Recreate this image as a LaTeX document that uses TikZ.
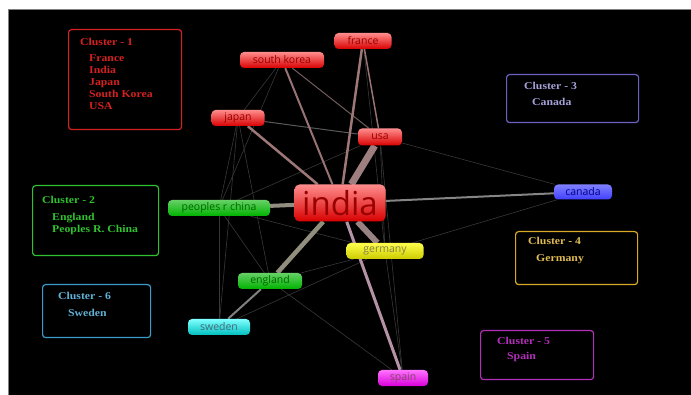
\documentclass[tikz,border=0pt]{standalone}
\usepackage{fontspec}
\setmainfont{Liberation Serif}
\newfontfamily\nodefont{Open Sans}
\newfontfamily\clfont[FakeStretch=1.12]{Liberation Serif}
\pgfdeclarelayer{bg}
\pgfdeclarelayer{edges}
\pgfsetlayers{bg,edges,main}
\definecolor{cred}{HTML}{D42020}
\definecolor{cgreen}{HTML}{30C030}
\definecolor{cblue}{HTML}{6A62C0}
\definecolor{cgold}{HTML}{D8AA28}
\definecolor{cmag}{HTML}{B030B8}
\definecolor{ccyan}{HTML}{3A9CCC}
\tikzset{
  cnode/.style={rounded corners=4pt, inner sep=0pt, font=\nodefont\fontsize{10.5}{11}\selectfont},
  rednode/.style={cnode, top color=red!45!white!100, bottom color=red!85!black, text=red!60!black},
  greennode/.style={cnode, top color=green!70!black!60!white, bottom color=green!70!black, text=green!40!black},
  bluenode/.style={cnode, top color=blue!50!white, bottom color=blue!75!white, text=blue!50!black},
  yellownode/.style={cnode, top color=yellow!70!white, bottom color=yellow!80!black, text=yellow!45!black},
  cyannode/.style={cnode, top color=cyan!50!white, bottom color=cyan!75!black, text=cyan!40!black},
  magnode/.style={cnode, top color=magenta!55!white, bottom color=magenta!85!black, text=magenta!45!black},
  clbox/.style={draw, line width=1.2pt, rounded corners=3pt, anchor=north west},
  cltext/.style={anchor=north west, inner sep=0pt, align=left, font=\clfont\bfseries\fontsize{10.5}{12}\selectfont},
  thin edge/.style={draw=white!22!black, line width=0.6pt},
  mid edge/.style={draw=white!40!black, line width=1pt},
}
\begin{document}
\begin{tikzpicture}[x=1pt,y=-1pt]
\useasboundingbox (0,0) rectangle (691,395);
\begin{pgfonlayer}{bg}
\fill[white] (0,0) rectangle (691,395);
\fill[black] (8,10) rectangle (691,395);
\draw[gray, line width=1pt] (8,395) -- (8,10) -- (691,10);
\end{pgfonlayer}

% nodes
\node[rednode, minimum width=57pt, minimum height=16pt] (france) at (363,41) {france};
\node[rednode, minimum width=84pt, minimum height=16pt] (skorea) at (282,60) {south korea};
\node[rednode, minimum width=53pt, minimum height=16pt] (japan) at (238,118) {japan};
\node[rednode, minimum width=44pt, minimum height=17pt] (usa) at (380,137) {usa};
\node[rednode, minimum width=91pt, minimum height=37pt, rounded corners=5pt, font=\nodefont\fontsize{33}{34}\selectfont] (india) at (340,203) {india};
\node[greennode, minimum width=102pt, minimum height=16pt] (china) at (219,208) {peoples r china};
\node[bluenode, minimum width=58pt, minimum height=15pt] (canada) at (583,192) {canada};
\node[yellownode, minimum width=77pt, minimum height=16pt] (germany) at (385,251) {germany};
\node[greennode, minimum width=64pt, minimum height=16pt] (england) at (270,281) {england};
\node[cyannode, minimum width=62pt, minimum height=16pt] (sweden) at (219,327) {sweden};
\node[magnode, minimum width=50pt, minimum height=16pt] (spain) at (403,378) {spain};

% edges
\begin{pgfonlayer}{edges}
\draw[thin edge] (japan) -- (england);
\draw[thin edge] (japan) -- (sweden);
\draw[thin edge] (japan) -- (china);
\draw[thin edge] (skorea) -- (japan);
\draw[thin edge] (skorea) -- (china);
\draw[thin edge] (china) -- (england);
\draw[thin edge] (china) -- (germany);
\draw[thin edge] (china) -- (usa);
\draw[thin edge] (china) -- (sweden);
\draw[thin edge] (england) -- (germany);
\draw[thin edge] (england) -- (spain);
\draw[thin edge] (sweden) -- (germany);
\draw[thin edge] (germany) -- (canada);
\draw[thin edge] (germany) -- (spain);
\draw[thin edge] (usa) -- (canada);
\draw[thin edge] (usa) -- (germany);
\draw[thin edge] (usa) -- (spain);
\draw[thin edge] (france) -- (germany);
\draw[mid edge, draw=white!35!black] (japan) -- (usa);
\draw[mid edge, draw=red!20!white!45!black] (skorea) -- (usa);
\draw[line width=1.5pt, draw=red!25!white!60!black] (france) -- (usa);
\draw[line width=2pt, draw=white!50!black] (england) -- (sweden);
\draw[line width=2pt, draw=white!52!black] (india) -- (canada);
\draw[line width=2pt, draw=red!25!white!60!black] (india) -- (skorea);
\draw[line width=2.5pt, draw=red!25!white!62!black] (india) -- (japan);
\draw[line width=2.5pt, draw=red!25!white!62!black] (india) -- (france);
\draw[line width=3pt, draw=magenta!30!white!68!black] (india) -- (spain);
\draw[line width=4pt, draw=yellow!20!white!50!black] (india) -- (china);
\draw[line width=4.5pt, draw=yellow!25!white!50!black] (india) -- (england);
\draw[line width=6pt, draw=red!15!white!60!black] (india) -- (germany);
\draw[line width=7pt, draw=red!20!white!62!black] (india) -- (usa);
\end{pgfonlayer}

% cluster boxes
\node[clbox, draw=cred, minimum width=113pt, minimum height=100pt] (c1) at (68,29) {};
\node[cltext, text=cred] (c1t) at (80,38) {Cluster - 1};
\node[cltext, text=cred] (c1i) at (89,54) {France\\India\\Japan\\South Korea\\USA};

\node[clbox, draw=cgreen, minimum width=126pt, minimum height=70pt] (c2) at (32,185) {};
\node[cltext, text=cgreen] (c2t) at (42,196) {Cluster - 2};
\node[cltext, text=cgreen] (c2i) at (52,213) {England\\Peoples R. China};

\node[clbox, draw=cblue, minimum width=132pt, minimum height=48pt] (c3) at (506,74) {};
\node[cltext, text=cblue!60!white] (c3t) at (524,82) {Cluster - 3};
\node[cltext, text=cblue!60!white] (c3i) at (532,98) {Canada};

\node[clbox, draw=cgold, minimum width=122pt, minimum height=53pt] (c4) at (515,231) {};
\node[cltext, text=cgold!80!white] (c4t) at (528,237) {Cluster - 4};
\node[cltext, text=cgold!80!white] (c4i) at (536,254) {Germany};

\node[clbox, draw=cmag, minimum width=113pt, minimum height=49pt] (c5) at (480,330) {};
\node[cltext, text=cmag] (c5t) at (497,337) {Cluster - 5};
\node[cltext, text=cmag] (c5i) at (507,352) {Spain};

\node[clbox, draw=ccyan, minimum width=108pt, minimum height=53pt] (c6) at (42,284) {};
\node[cltext, text=ccyan!80!white] (c6t) at (58,292) {Cluster - 6};
\node[cltext, text=ccyan!80!white] (c6i) at (68,309) {Sweden};
\end{tikzpicture}
\end{document}
